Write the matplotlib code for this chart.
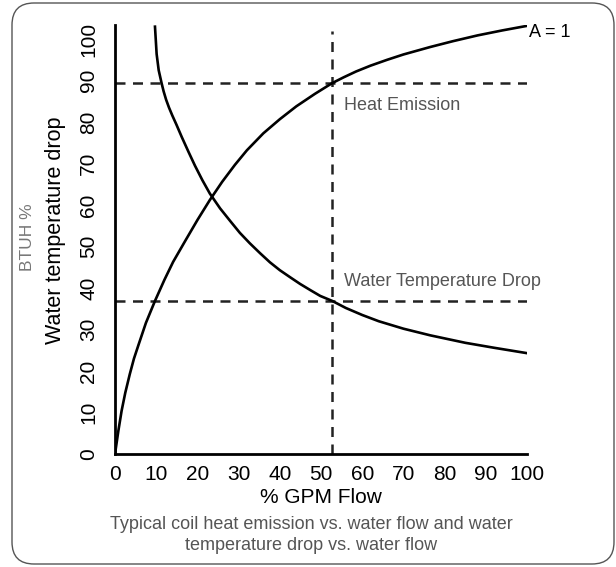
import matplotlib
matplotlib.use("Agg")
import matplotlib.pyplot as plt
from matplotlib.patches import FancyBboxPatch

plt.rcParams['font.family'] = ['Liberation Sans', 'DejaVu Sans']

# heat emission curve (% BTUH vs % GPM flow)
heat_x = [0, 0.8, 1.6, 2.5, 3.6, 4.6, 5.7, 7.5, 9.7, 12, 14.1, 17, 20, 23, 26, 29.1, 32, 36,
          40, 44, 48.5, 52.7, 55.5, 58.5, 62, 66, 70, 76.5, 82, 88, 94, 100]
heat_y = [0, 5.5, 10.4, 14.8, 19.3, 23, 26.3, 31.6, 36.9, 42, 46.3, 51.3, 56.4, 61.2, 65.6, 69.7,
          73.2, 77.3, 80.7, 83.8, 86.8, 89.4, 90.8, 92.2, 93.6, 95, 96.3, 98.1, 99.5, 100.9, 102.1, 103.2]

# water temperature drop curve
drop_x = [9.7, 10.1, 10.6, 11.3, 11.8, 12.4, 13.1, 13.9, 14.9, 16.2, 17.8, 19.4, 21.2, 23, 25.5,
          28, 30.3, 32.7, 35.2, 37.6, 40, 42.5, 44.9, 47.4, 49.8, 52.7, 56, 60, 64, 70, 76.5,
          85, 92, 100]
drop_y = [103, 96.4, 92.5, 89.4, 87.4, 85.4, 83.5, 81.6, 79.4, 76.4, 72.9, 69.5, 66, 62.8, 59.2,
          56.1, 53.3, 50.8, 48.4, 46.2, 44.3, 42.6, 41, 39.5, 38.1, 36.9, 35.2, 33.5, 32, 30.2, 28.6,
          26.8, 25.6, 24.3]

# reference (dashed) lines
ref_flow = 52.7
ref_heat = 89.4
ref_drop = 36.9

xticks = [0, 10, 20, 30, 40, 50, 60, 70, 80, 90, 100]
yticks = [0, 10, 20, 30, 40, 50, 60, 70, 80, 90, 100]

fig = plt.figure(figsize=(6.16, 5.67), dpi=100)

# rounded frame around everything
frame = FancyBboxPatch((0.12, 0.03), 6.02, 5.61,
                       boxstyle="round,pad=0,rounding_size=0.22",
                       transform=fig.dpi_scale_trans, facecolor='none',
                       edgecolor='#555555', linewidth=1.0)
fig.patches.append(frame)

ax = fig.add_axes([0.1867, 0.1993, 0.669, 0.7566])

dash = (0, (4, 3))
ax.plot([0, 100], [ref_heat, ref_heat], color='#222222', lw=1.8, linestyle=dash)
ax.plot([0, 100], [ref_drop, ref_drop], color='#222222', lw=1.8, linestyle=dash)
ax.plot([ref_flow, ref_flow], [0, 102], color='#222222', lw=1.8, linestyle=dash)

ax.plot(heat_x, heat_y, color='black', lw=1.9, solid_joinstyle='round')
ax.plot(drop_x, drop_y, color='black', lw=1.9, solid_joinstyle='round')

ax.set_xlim(0, 100)
ax.set_ylim(0, 103.4)
for s in ['top', 'right']:
    ax.spines[s].set_visible(False)
for s in ['left', 'bottom']:
    ax.spines[s].set_linewidth(2)
    ax.spines[s].set_color('black')

ax.set_xticks(xticks)
ax.set_yticks(yticks)
ax.tick_params(axis='both', length=0, labelsize=15)
ax.tick_params(axis='x', pad=8)
ax.tick_params(axis='y', pad=12)
for lbl in ax.get_yticklabels():
    lbl.set_rotation(90)
    lbl.set_va('center')

ax.set_xlabel('% GPM Flow', fontsize=15, labelpad=3)

ax.text(100.5, 101.5, 'A = 1', fontsize=13, ha='left', va='center', clip_on=False)
ax.text(55.5, 84, 'Heat Emission', fontsize=13, color='#555555', ha='left', va='center')
ax.text(55.5, 41.5, 'Water Temperature Drop', fontsize=13, color='#555555', ha='left', va='center')

fig.text(55 / 616, 1 - 230 / 567, 'Water temperature drop', rotation=90, fontsize=15.5,
         ha='center', va='center')
fig.text(28 / 616, 1 - 237 / 567, 'BTUH %', rotation=90, fontsize=12.5, color='#777777',
         ha='center', va='center')

fig.text(311 / 616, 1 - 535 / 567,
         'Typical coil heat emission vs. water flow and water\ntemperature drop vs. water flow',
         fontsize=13, color='#555555', ha='center', va='center', linespacing=1.3)

fig.savefig('out.png', dpi=100)
